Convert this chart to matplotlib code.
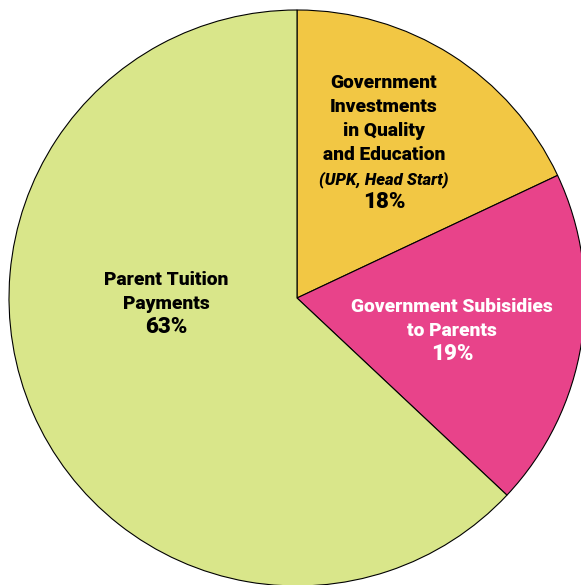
import matplotlib
matplotlib.use("Agg")
import matplotlib.pyplot as plt

categories = ["Government Investments in Quality and Education (UPK, Head Start)",
              "Government Subisidies to Parents",
              "Parent Tuition Payments"]
shares = [18, 19, 63]
colors = ["#F2C744", "#E8438A", "#D9E68A"]
label_lines = [["Government", "Investments", "in Quality", "and Education"],
               ["Government Subisidies", "to Parents"],
               ["Parent Tuition", "Payments"]]
sub_notes = ["(UPK, Head Start)", None, None]
text_colors = ["black", "white", "black"]

W, H = 581, 585
fig = plt.figure(figsize=(W / 100, H / 100), dpi=100)
ax = fig.add_axes([0, 0, 1, 1])

cx, cy, r = 297, H - 298, 288
wedges, _ = ax.pie(shares, colors=colors, startangle=90, counterclock=False,
                   center=(cx, cy), radius=r,
                   wedgeprops=dict(edgecolor="black", linewidth=0.8))
ax.set_xlim(0, W)
ax.set_ylim(0, H)
ax.set_aspect("equal")
ax.axis("off")

fam = ["Roboto", "DejaVu Sans"]

# label anchor: x center, baseline of first line (pixels from top-left)
anchors = [(384, 88), (452, 312), (166, 285)]
step = 24
fs = 13.8
for i, (lines, note, tc) in enumerate(zip(label_lines, sub_notes, text_colors)):
    x, y0 = anchors[i]
    y = y0
    for ln in lines:
        ax.text(x, H - y, ln, ha="center", va="baseline", fontsize=fs,
                fontweight="black", color=tc, family=fam)
        y += step
    if note:
        ax.text(x, H - y, note, ha="center", va="baseline", fontsize=12,
                fontweight="black", style="italic", color=tc, family=fam)
        y += step
    ax.text(x, H - y, f"{shares[i]}%", ha="center", va="baseline", fontsize=16,
            fontweight="black", color=tc, family=fam)

fig.savefig("out.png", dpi=100)
